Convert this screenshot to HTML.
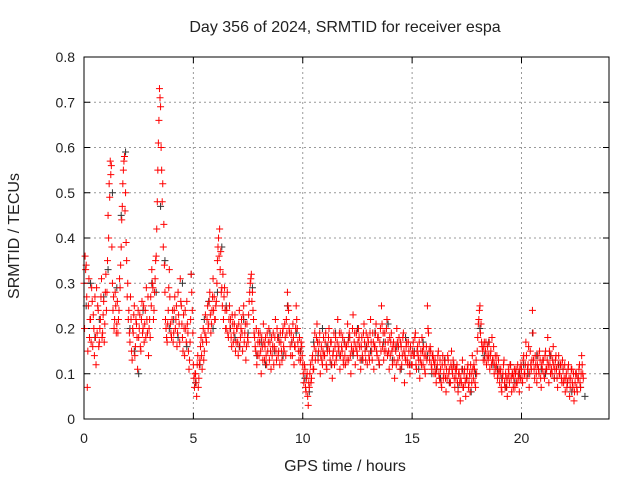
<!DOCTYPE html>
<html><head><meta charset="utf-8"><style>
body{margin:0;background:#fff;}
svg text{font-family:"Liberation Sans",sans-serif;font-size:14px;fill:#222;}
svg text.big{font-size:16px;}
</style></head><body>
<svg id="chart" width="640" height="480" viewBox="0 0 640 480" xmlns="http://www.w3.org/2000/svg">
<rect width="640" height="480" fill="#fff"/>
<text class="big" x="345" y="32" text-anchor="middle">Day 356 of 2024, SRMTID for receiver espa</text>
<text class="big" transform="translate(19,236) rotate(-90)" text-anchor="middle">SRMTID / TECUs</text>
<text class="big" x="345" y="471" text-anchor="middle">GPS time / hours</text>
<g id="grid"></g>
<g id="ticks"></g>
<g id="black-series"></g>
<g id="red-series"></g>
<rect x="84" y="57" width="525" height="362" fill="none" stroke="#000" stroke-width="1"/>
</svg>
<script>
const xTicks=[0,5,10,15,20];
const yTicks=[0,0.1,0.2,0.3,0.4,0.5,0.6,0.7,0.8];
const yTickLabels=["0","0.1","0.2","0.3","0.4","0.5","0.6","0.7","0.8"];
const redStep=0.05;
const redValues=[
.30,.36,.34,.07,.25,.18,.22,.29,.16,.20,.27,.12,.19,.24,.17,.22,.31,.19,.26,.21,
.32,.28,.45,.52,.57,.56,.30,.27,.22,.25,.21,.19,.24,.29,.38,.47,.55,.58,.50,.35,
.30,.24,.17,.22,.13,.19,.25,.16,.21,.11,.18,.23,.15,.26,.20,.17,.24,.29,.19,.14,
.22,.27,.33,.29,.24,.31,.36,.48,.61,.73,.69,.55,.52,.43,.28,.20,.17,.24,.33,.21,
.18,.24,.19,.27,.22,.16,.28,.21,.31,.25,.18,.23,.14,.20,.26,.19,.11,.17,.32,.24,
.12,.07,.10,.05,.14,.09,.13,.18,.11,.20,.15,.23,.17,.25,.21,.28,.19,.24,.31,.27,
.22,.26,.35,.40,.42,.37,.29,.32,.27,.24,.20,.28,.18,.25,.22,.16,.21,.19,.23,.17,
.20,.14,.24,.18,.22,.15,.25,.19,.13,.21,.17,.26,.30,.32,.28,.22,.18,.15,.12,.17,
.14,.19,.10,.16,.21,.13,.18,.12,.15,.20,.17,.11,.14,.19,.16,.22,.13,.18,.15,.12,
.17,.13,.20,.15,.18,.22,.28,.24,.19,.14,.17,.21,.12,.16,.25,.20,.15,.18,.13,.16,
.12,.08,.11,.06,.10,.03,.07,.12,.09,.14,.11,.19,.15,.21,.13,.17,.10,.16,.12,.18,
.14,.19,.11,.16,.20,.13,.17,.09,.15,.12,.18,.14,.22,.16,.11,.19,.15,.13,.17,.12,
.16,.21,.13,.18,.10,.15,.23,.17,.12,.19,.14,.20,.16,.11,.18,.13,.21,.15,.19,.12,
.17,.13,.22,.15,.19,.11,.16,.21,.14,.18,.12,.20,.25,.16,.13,.19,.15,.22,.17,.11,
.14,.19,.12,.17,.09,.15,.20,.13,.18,.11,.16,.14,.19,.08,.13,.17,.12,.15,.10,.14,
.12,.17,.14,.19,.11,.16,.13,.09,.15,.18,.12,.14,.10,.16,.25,.19,.13,.15,.11,.14,
.10,.13,.08,.12,.15,.09,.11,.07,.14,.10,.12,.06,.09,.13,.11,.08,.15,.10,.12,.07,
.09,.12,.06,.10,.04,.08,.13,.07,.11,.05,.09,.12,.08,.06,.10,.14,.09,.11,.07,.10,
.18,.22,.25,.21,.16,.13,.17,.15,.12,.16,.14,.11,.15,.18,.13,.10,.14,.12,.09,.13,
.08,.11,.06,.10,.13,.07,.09,.05,.11,.08,.12,.06,.10,.09,.07,.11,.08,.10,.06,.09,
.11,.08,.14,.10,.17,.09,.12,.07,.15,.11,.24,.13,.09,.12,.08,.14,.10,.13,.07,.11,
.13,.09,.15,.11,.18,.08,.12,.14,.10,.16,.09,.13,.11,.07,.14,.10,.12,.08,.11,.09,
.06,.10,.08,.12,.05,.09,.11,.07,.04,.08,.10,.06,.09,.12,.07,.14,.10];
const red2Start=0.025;
const red2Values=[
.20,.33,.27,.15,.31,.22,.17,.26,.23,.14,.18,.29,.25,.16,.20,.27,.18,.23,.17,.28,
.24,.35,.40,.49,.54,.38,.24,.20,.28,.19,.26,.22,.31,.34,.44,.52,.57,.46,.39,.27,
.22,.19,.27,.15,.20,.23,.14,.22,.18,.24,.20,.16,.22,.19,.25,.21,.18,.22,.27,.20,
.18,.25,.30,.22,.28,.35,.42,.55,.66,.71,.60,.48,.38,.34,.22,.18,.21,.29,.27,.19,
.22,.17,.24,.20,.25,.19,.23,.17,.26,.21,.15,.20,.24,.17,.21,.15,.13,.22,.28,.19,
.09,.10,.08,.12,.07,.12,.16,.14,.17,.13,.19,.18,.22,.20,.26,.23,.21,.27,.24,.22,
.25,.30,.38,.36,.33,.28,.25,.22,.29,.20,.24,.19,.22,.20,.18,.23,.17,.21,.15,.20,
.17,.21,.16,.20,.19,.23,.17,.21,.16,.18,.23,.28,.31,.26,.24,.19,.16,.20,.14,.19,
.17,.15,.18,.13,.17,.16,.14,.19,.17,.13,.15,.18,.16,.12,.18,.15,.20,.14,.17,.19,
.15,.19,.16,.21,.14,.19,.25,.20,.16,.19,.14,.18,.16,.20,.22,.17,.13,.15,.17,.14,
.10,.12,.07,.09,.05,.08,.10,.08,.13,.11,.16,.13,.18,.17,.15,.19,.14,.13,.15,.14,
.17,.12,.15,.18,.15,.17,.12,.14,.19,.16,.13,.17,.15,.19,.14,.16,.18,.12,.14,.16,
.13,.17,.19,.14,.16,.20,.15,.19,.16,.15,.17,.18,.13,.16,.14,.19,.17,.13,.16,.18,
.14,.19,.17,.13,.17,.16,.19,.15,.18,.13,.17,.15,.21,.19,.15,.17,.20,.14,.15,.18,
.17,.15,.16,.13,.16,.12,.17,.16,.14,.17,.12,.18,.15,.14,.16,.13,.17,.12,.16,.12,
.15,.14,.18,.12,.15,.14,.17,.13,.12,.15,.16,.11,.14,.13,.20,.15,.16,.12,.14,.13,
.12,.10,.11,.14,.10,.13,.08,.12,.09,.13,.09,.11,.14,.10,.08,.12,.11,.13,.09,.11,
.11,.08,.10,.08,.09,.11,.07,.10,.08,.09,.11,.07,.10,.12,.08,.11,.12,.08,.13,.15,
.21,.24,.19,.17,.15,.16,.13,.17,.14,.13,.17,.14,.12,.13,.16,.12,.11,.14,.10,.11,
.10,.07,.09,.12,.08,.10,.07,.09,.10,.12,.09,.10,.07,.11,.10,.08,.12,.09,.11,.12,
.09,.13,.10,.12,.14,.11,.16,.10,.12,.13,.19,.11,.14,.10,.12,.11,.15,.09,.12,.13,
.10,.14,.11,.13,.12,.15,.10,.11,.13,.12,.11,.14,.09,.12,.10,.12,.09,.13,.08,.12,
.09,.07,.11,.09,.07,.11,.08,.10,.06,.10,.07,.09,.11,.08,.10,.12,.09];
const blackStart=0.1, blackStep=0.2;
const blackValues=[
.25,.30,.18,.22,.27,
.33,.50,.29,.45,.59,
.20,.15,.10,.24,.19,
.30,.28,.47,.35,.20,
.22,.18,.30,.16,.32,
.08,.12,.22,.26,.20,
.28,.38,.25,.20,.18,
.16,.22,.19,.29,.14,
.17,.12,.19,.15,.18,
.14,.25,.17,.19,.15,
.09,.06,.17,.14,.20,
.16,.12,.19,.14,.17,
.18,.14,.20,.13,.16,
.15,.19,.12,.17,.21,
.13,.16,.11,.18,.12,
.15,.11,.17,.14,.10,
.11,.09,.13,.08,.12,
.07,.11,.09,.06,.10,
.20,.14,.17,.12,.11,
.09,.07,.12,.08,.10,
.12,.10,.19,.14,.11,
.10,.14,.09,.12,.11,
.08,.06,.10,.07,.05];

const NS="http://www.w3.org/2000/svg";
const X0=84,X1=609,Y0=419,Y1=57,XMAX=24,YMAX=0.8;
function xs(v){return X0+(X1-X0)*v/XMAX;}
function ys(v){return Y0-(Y0-Y1)*v/YMAX;}
function mk(tag,attrs,parent){const e=document.createElementNS(NS,tag);for(const k in attrs)e.setAttribute(k,attrs[k]);parent.appendChild(e);return e;}
const grid=document.getElementById('grid'),ticks=document.getElementById('ticks');
xTicks.forEach(t=>{
  const x=xs(t);
  if(t>0){const g=mk('line',{x1:x,x2:x,y1:Y1,y2:Y0,stroke:'#999','stroke-dasharray':'2,3'},grid);
  
  }
  mk('line',{x1:x,x2:x,y1:Y0,y2:Y0-6,stroke:'#000'},ticks);
  mk('line',{x1:x,x2:x,y1:Y1,y2:Y1+6,stroke:'#000'},ticks);
  const l=mk('text',{x:x,y:443,'text-anchor':'middle'},ticks);l.textContent=t;
  
  
});
yTicks.forEach((t,i)=>{
  const y=ys(t);
  if(t>0&&t<YMAX){const g=mk('line',{x1:X0,x2:X1,y1:y,y2:y,stroke:'#999','stroke-dasharray':'2,3'},grid);
  
  }
  mk('line',{x1:X0,x2:X0+6,y1:y,y2:y,stroke:'#000'},ticks);
  mk('line',{x1:X1,x2:X1-6,y1:y,y2:y,stroke:'#000'},ticks);
  const l=mk('text',{x:75,y:y+5,'text-anchor':'end'},ticks);l.textContent=yTickLabels[i];
  
  
});
function plus(g,t,v,color,name){
  const x=xs(t),y=ys(v);
  const p=mk('path',{d:`M${x-3.5},${y}H${x+3.5}M${x},${y-3.5}V${y+3.5}`,stroke:color,'stroke-width':1,fill:'none'},g);
  
  
}
const bg=document.getElementById('black-series');
blackValues.forEach((v,i)=>plus(bg,blackStart+i*blackStep,v,'#333','black-point'));
const rg=document.getElementById('red-series');
redValues.forEach((v,i)=>plus(rg,i*redStep,v,'#ff0000','red-point'));
red2Values.forEach((v,i)=>plus(rg,red2Start+i*redStep,v,'#ff0000','red-point'));
</script>
</body></html>
